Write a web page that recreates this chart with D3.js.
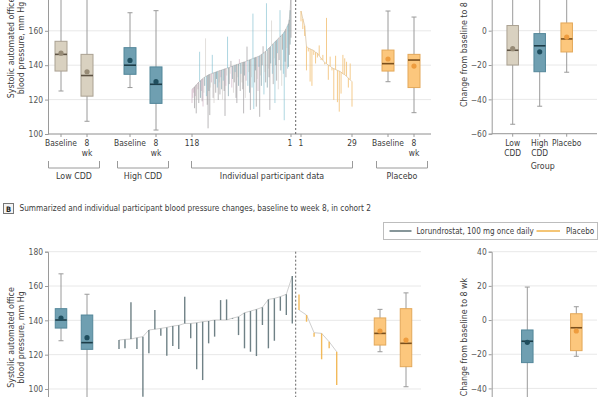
<!DOCTYPE html>
<html>
<head>
<meta charset="utf-8">
<script src="https://cdn.jsdelivr.net/npm/d3@7"></script>
<style>
  body { margin: 0; background: #fff; }
  svg { display: block; font-family: 'DejaVu Sans Condensed', 'DejaVu Sans', sans-serif; font-stretch: condensed; }
</style>
</head>
<body>
<svg id="chart" width="600" height="397"></svg>
<script>
// ---- cohort 1, individual participants (lorundrostat, sorted by baseline, 118 -> 1)
const lorBase1 = [
  126.0, 126.3, 126.9, 127.4, 127.9, 128.6, 129.0, 129.7, 130.1, 130.6,
  131.0, 131.4, 131.9, 132.3, 132.8, 133.0, 133.4, 133.6, 133.9, 134.3,
  134.5, 134.7, 134.9, 135.1, 135.3, 135.5, 135.6, 135.8, 136.0, 136.2,
  136.4, 136.5, 136.7, 136.9, 137.0, 137.2, 137.4, 137.5, 137.7, 137.9,
  138.0, 138.2, 138.4, 138.5, 138.7, 138.9, 139.1, 139.3, 139.5, 139.7,
  139.9, 140.0, 140.2, 140.4, 140.5, 140.7, 140.9, 141.1, 141.3, 141.5,
  141.6, 141.8, 141.9, 142.0, 142.3, 142.5, 142.7, 142.9, 143.1, 143.3,
  143.5, 143.7, 143.9, 144.1, 144.3, 144.5, 144.6, 144.8, 145.0, 145.2,
  145.5, 145.8, 146.2, 146.6, 146.9, 147.3, 147.7, 148.1, 148.5, 149.0,
  149.5, 150.0, 150.4, 150.9, 151.5, 152.0, 152.5, 153.0, 153.6, 154.0,
  154.5, 155.0, 155.5, 156.0, 156.5, 157.0, 157.5, 158.0, 158.5, 159.3,
  160.0, 161.0, 162.0, 163.0, 164.2, 166.5, 172.0, 182.0
];
const lorWk1 = [
  118, 121, 124, 115, 122, 112, 120, 126, 118, 147.8,
  121, 125, 119, 116, 124, 128, 155.6, 122, 117, 103.3,
  125, 111, 127, 130, 146, 121, 118, 129, 124, 132,
  127, 119.8, 130, 123, 133, 126, 120, 131, 125, 110.5,
  128, 134, 156.6, 122, 129, 135, 142.5, 127, 132, 124,
  130, 136, 121, 118, 133, 128, 143.5, 125, 135, 130,
  126, 112, 134, 121, 131, 150.8, 128, 136, 124, 114,
  133, 127, 170, 114.5, 130, 137, 115.9, 132, 125, 139,
  110, 134, 128, 140, 151, 123, 136, 130, 176, 127,
  138, 133, 114, 141, 166, 135, 129, 144, 118, 140,
  131, 147, 126, 143, 172, 137, 128, 149, 135, 108,
  142, 133, 150, 138, 139, 146, 152, 156
];
// dose arm of each participant (index into doseColors)
const lorDose1 = [
  0, 0, 0, 1, 0, 1, 2, 0, 1, 3,
  4, 0, 1, 0, 2, 4, 2, 3, 1, 1,
  4, 1, 2, 0, 3, 1, 2, 3, 1, 4,
  3, 1, 2, 1, 0, 4, 2, 3, 1, 1,
  0, 2, 3, 4, 1, 2, 1, 0, 4, 2,
  1, 3, 1, 1, 2, 4, 0, 1, 3, 2,
  1, 1, 4, 2, 0, 1, 3, 2, 4, 1,
  2, 3, 3, 3, 1, 4, 1, 2, 0, 3,
  1, 2, 4, 1, 1, 3, 2, 1, 3, 4,
  2, 1, 1, 4, 2, 3, 1, 2, 3, 4,
  1, 3, 2, 1, 3, 4, 2, 1, 3, 3,
  4, 1, 2, 3, 4, 1, 4, 1
];
// ---- cohort 1, placebo participants (1 -> 29)
const plaBase1 = [
  171.5, 167.0, 163.0, 151.0, 150.0, 149.5, 149.0, 148.5, 147.5, 147.0,
  145.5, 144.0, 143.0, 141.5, 140.9, 140.0, 139.5, 138.5, 138.0, 137.5,
  137.0, 136.6, 136.0, 135.0, 134.5, 133.5, 132.5, 131.5, 130.4
];
const plaWk1 = [
  165.5, 161, 157, 137, 148, 130.5, 128, 146, 141, 144.5,
  151.5, 143, 146, 140.5, 167.5, 131.5, 145, 137, 119.8, 145.5,
  118.5, 113, 123.5, 146, 144, 142, 127, 141, 115.9
];

// ---- cohort 2, individual participants (lorundrostat 30 -> 1, placebo 1 -> 6)
const lorBase2 = [
  128.5, 128.9, 129.1, 129.9, 130.5, 134.4, 134.8, 135.3, 135.9, 136.7,
  137.1, 138.2, 138.2, 138.6, 139.2, 139.6, 140.2, 140.2, 140.2, 141.3,
  142.1, 144.4, 145.4, 146.4, 147.6, 152.2, 152.8, 153.8, 155.2, 165.8
];
const lorWk2 = [
  123.3, 123.7, 150.5, 123.3, 95.5, 120.8, 146.0, 131.0, 119.4, 125.0,
  123.3, 153.8, 129.5, 111.5, 105.2, 126.6, 130.5, 151.8, 152.2, 140.9,
  131.4, 123.7, 121.7, 119.2, 137.3, 123.7, 128.1, 145.6, 143.1, 138.2
];
const plaBase2 = [146.0, 143.1, 132.8, 132.4, 127.5, 121.7];
const plaWk2 = [155.0, 139.2, 130.5, 117.3, 123.7, 102.3];

// ---- box summaries: [whisker low, Q1, median, Q3, whisker high, mean]
const boxes1 = [
  {key: 'lowBase', stats: [125, 136.6, 146.3, 153.9, 185, 147.0], grp: 'low'},
  {key: 'low8', stats: [107.4, 122, 134, 146.3, 185, 136.2], grp: 'low'},
  {key: 'highBase', stats: [127, 134.7, 140, 150.2, 170.5, 142.8], grp: 'high'},
  {key: 'high8', stats: [102.3, 117.8, 128.9, 139, 171.7, 130.4], grp: 'high'},
  {key: 'plaBase', stats: [130.4, 136.6, 140.9, 148.8, 171.5, 143.6], grp: 'pla'},
  {key: 'pla8', stats: [112.4, 127, 143, 146.3, 168, 139.5], grp: 'pla'}
];
const change1 = [
  {key: 'Low CDD', stats: [-54.5, -20, -11.4, 3, 25, -10.5], grp: 'low'},
  {key: 'High CDD', stats: [-44, -23.9, -8.8, -1.7, 25, -12.3], grp: 'high'},
  {key: 'Placebo', stats: [-24.2, -12.4, -4.8, 4.5, 22, -3.7], grp: 'pla'}
];
const boxes2 = [
  {key: 'lorBase', stats: [128.1, 135.5, 140.2, 146.8, 167.1, 141.3], grp: 'high'},
  {key: 'lor8', stats: [92, 123.1, 127, 143.1, 155.2, 129.9], grp: 'high'},
  {key: 'plaBase', stats: [121.7, 125.6, 132.4, 141.4, 146.4, 133.8], grp: 'pla'},
  {key: 'pla8', stats: [101.3, 113, 126.6, 146.8, 156, 128.5], grp: 'pla'}
];
const change2 = [
  {key: 'Lorundrostat', stats: [-48, -24.9, -12.4, -5.8, 19.3, -13.0], grp: 'high'},
  {key: 'Placebo', stats: [-21.2, -17.9, -4.5, 3.7, 7.8, -6.4], grp: 'pla'}
];

const bpTicks1 = [100, 120, 140, 160];
const bpTicks2 = [100, 120, 140, 160, 180];
const chTicks1 = [-60, -40, -20, 0];
const chTicks2 = [-40, -20, 0, 20, 40];
const legendItems = ['Lorundrostat, 100 mg once daily', 'Placebo'];
const titleB = 'Summarized and individual participant blood pressure changes, baseline to week 8, in cohort 2';

// colours
const boxCol = {
  low: {fill: '#d9d1c0', stroke: '#aaa192', med: '#5e5344', mean: '#978b76'},
  high: {fill: '#6f9fb1', stroke: '#53879a', med: '#1d3d48', mean: '#1f4e5e'},
  pla: {fill: '#fcc77d', stroke: '#e3a85a', med: '#7a4f1c', mean: '#ee9c3e'}
};
const doseColors = ['#c9a4b8', '#8b888a', '#cdc8c3', '#74b8cb', '#6a8f99'];
const plaLineCol = '#f2bf72';
const lorLineCol2 = '#5f7379';
const plaLineCol2 = '#f1b249';

const svg = d3.select('#chart');
const txt = '#3a3a3a', tickCol = '#555', axisCol = '#9a9a9a', gridCol = '#e8e8e8';
const fs = '8.4px';

function yAxis(g, y, ticks, x, x2) {
  g.selectAll('line.grid').data(ticks).enter().append('line')
    .attr('class', 'grid')
    .attr('x1', x).attr('x2', x2)
    .attr('y1', d => y(d)).attr('y2', d => y(d))
    .attr('stroke', gridCol);
  const ax = g.append('g').attr('transform', `translate(${x},0)`)
    .call(d3.axisLeft(y).tickValues(ticks).tickSize(3).tickPadding(2));
  ax.select('.domain').attr('stroke', axisCol);
  ax.selectAll('.tick line').attr('stroke', axisCol);
  ax.selectAll('.tick text').attr('fill', tickCol).style('font-size', fs)
    .style('font-family', "'DejaVu Sans Condensed', 'DejaVu Sans', sans-serif");
}

function rotLabel(g, lines, x, yc) {
  lines.forEach((t, i) => {
    g.append('text')
      .attr('transform', `translate(${x + i * 10},${yc}) rotate(-90)`)
      .attr('text-anchor', 'middle')
      .attr('fill', txt)
      .style('font-size', '8.8px')
      .text(t);
  });
}

function drawBox(g, cx, s, y, c, w) {
  const [lo, q1, med, q3, hi, mean] = s;
  g.append('line').attr('x1', cx).attr('x2', cx).attr('y1', y(lo)).attr('y2', y(hi))
    .attr('stroke', axisCol);
  [lo, hi].forEach(v => g.append('line')
    .attr('x1', cx - 2.5).attr('x2', cx + 2.5).attr('y1', y(v)).attr('y2', y(v))
    .attr('stroke', axisCol));
  g.append('rect')
    .attr('x', cx - w / 2).attr('y', y(q3))
    .attr('width', w).attr('height', y(q1) - y(q3))
    .attr('fill', c.fill).attr('stroke', c.stroke);
  g.append('line').attr('x1', cx - w / 2).attr('x2', cx + w / 2)
    .attr('y1', y(med)).attr('y2', y(med))
    .attr('stroke', c.med).attr('stroke-width', 1.6);
  g.append('circle').attr('cx', cx).attr('cy', y(mean)).attr('r', 2.6).attr('fill', c.mean);
}

function xLabel(g, lines, x, y0) {
  lines.forEach((t, i) => g.append('text')
    .attr('x', x).attr('y', y0 + i * 10)
    .attr('text-anchor', 'middle').attr('fill', txt)
    .style('font-size', fs).text(t));
}

function bracket(g, x0, x1, label) {
  g.append('path')
    .attr('d', `M${x0},161V168H${x1}V161`)
    .attr('fill', 'none').attr('stroke', axisCol);
  g.append('text').attr('x', (x0 + x1) / 2).attr('y', 179)
    .attr('text-anchor', 'middle').attr('fill', txt)
    .style('font-size', '8.8px').text(label);
}

function participants(g, xs, base, wk, col, ids, sw) {
  g.selectAll(null).data(base).enter().append('line')
    .attr('x1', (d, i) => xs(ids[i])).attr('x2', (d, i) => xs(ids[i]))
    .attr('y1', d => d).attr('y2', (d, i) => wk[i])
    .attr('stroke', (d, i) => col(i))
    .attr('stroke-width', sw).attr('stroke-opacity', 0.9);
}

function drawCohort1() {
  const y = d3.scaleLinear().domain([100, 200]).range([134, -38]);
  const g = svg.append('g');
  yAxis(g, y, bpTicks1, 48, 431);
  rotLabel(g, ['Systolic automated office', 'blood pressure, mm Hg'], 13.5, y(150));

  g.append('line').attr('x1', 48).attr('x2', 431).attr('y1', 134).attr('y2', 134).attr('stroke', axisCol);

  const bx = d3.scaleOrdinal().domain(boxes1.map(d => d.key)).range([61, 87, 130, 156, 388, 414]);
  boxes1.forEach(b => drawBox(g, bx(b.key), b.stats, y, boxCol[b.grp], 12));

  const xl = d3.scaleLinear().domain([118, 1]).range([192, 291]);
  const xp = d3.scaleLinear().domain([1, 29]).range([301, 352]);
  const lIds = lorBase1.map((d, i) => 118 - i);
  const pIds = plaBase1.map((d, i) => i + 1);

  // baseline curves
  const curve = d3.line().x(d => d[0]).y(d => y(d[1]));
  g.append('path').attr('d', curve(lorBase1.map((d, i) => [xl(lIds[i]), d])))
    .attr('fill', 'none').attr('stroke', '#c4c4c4').attr('stroke-width', 0.8);
  g.append('path').attr('d', curve(plaBase1.map((d, i) => [xp(pIds[i]), d])))
    .attr('fill', 'none').attr('stroke', '#d9c7a8').attr('stroke-width', 0.8);

  participants(g, xl, lorBase1.map(y), lorWk1.map(y), i => doseColors[lorDose1[i]], lIds, 0.65);
  participants(g, xp, plaBase1.map(y), plaWk1.map(y), () => plaLineCol, pIds, 0.9);

  g.append('line').attr('x1', 295.7).attr('x2', 295.7).attr('y1', 0).attr('y2', 134)
    .attr('stroke', '#666').attr('stroke-dasharray', '2,2');

  // x ticks
  const tickXs = [61, 87, 130, 156, xl(118), xl(1), xp(1), xp(29), 388, 414];
  g.selectAll('line.xt').data(tickXs).enter().append('line')
    .attr('x1', d => d).attr('x2', d => d).attr('y1', 134).attr('y2', 137).attr('stroke', axisCol);

  xLabel(g, ['Baseline'], 61, 146);
  xLabel(g, ['8', 'wk'], 87, 146);
  xLabel(g, ['Baseline'], 130, 146);
  xLabel(g, ['8', 'wk'], 156, 146);
  xLabel(g, ['118'], xl(118), 146);
  xLabel(g, ['1'], xl(1) - 1, 146);
  xLabel(g, ['1'], xp(1), 146);
  xLabel(g, ['29'], xp(29), 146);
  xLabel(g, ['Baseline'], 388, 146);
  xLabel(g, ['8', 'wk'], 414, 146);

  bracket(g, 48.5, 99.5, 'Low CDD');
  bracket(g, 117.5, 168.5, 'High CDD');
  bracket(g, 191.5, 352.5, 'Individual participant data');
  bracket(g, 376.5, 427.5, 'Placebo');

  // change panel
  const yc = d3.scaleLinear().domain([-60, 40]).range([133.7, -38]);
  const gc = svg.append('g');
  yAxis(gc, yc, chTicks1, 491.7, 597);
  gc.append('line').attr('x1', 491.7).attr('x2', 597).attr('y1', 133.7).attr('y2', 133.7).attr('stroke', axisCol);
  rotLabel(gc, ['Change from baseline to 8 wk'], 466.5, yc(-10));
  const cx = d3.scalePoint().domain(change1.map(d => d.key)).range([512.7, 566.7]);
  change1.forEach(b => {
    drawBox(gc, cx(b.key), b.stats, yc, boxCol[b.grp], 11.5);
    gc.append('line').attr('x1', cx(b.key)).attr('x2', cx(b.key)).attr('y1', 133.7).attr('y2', 136.7).attr('stroke', axisCol);
  });
  xLabel(gc, ['Low', 'CDD'], cx('Low CDD'), 146);
  xLabel(gc, ['High', 'CDD'], cx('High CDD'), 146);
  xLabel(gc, ['Placebo'], cx('Placebo'), 146);
  gc.append('text').attr('x', 542.7).attr('y', 169).attr('text-anchor', 'middle')
    .attr('fill', txt).style('font-size', '8.8px').text('Group');
}

function drawCohort2() {
  const g = svg.append('g');
  // panel title
  g.append('rect').attr('x', 3.5).attr('y', 203.5).attr('width', 10).attr('height', 10)
    .attr('fill', '#f4f4f4').attr('stroke', '#777');
  g.append('text').attr('x', 8.5).attr('y', 211.6).attr('text-anchor', 'middle')
    .attr('fill', '#222').style('font-size', '7.5px').style('font-weight', 'bold').text('B');
  g.append('text').attr('x', 19.5).attr('y', 211.3).attr('fill', txt)
    .style('font-size', '8.2px').text(titleB);

  // legend
  const lg = g.append('g');
  lg.append('rect').attr('x', 383.5).attr('y', 222.5).attr('width', 214).attr('height', 17)
    .attr('fill', '#fff').attr('stroke', '#bdbdbd');
  const lx = [[389.5, 411.5, 416.5], [536.5, 560, 566]];
  const lc = [lorLineCol2, plaLineCol2];
  legendItems.forEach((t, i) => {
    lg.append('line').attr('x1', lx[i][0]).attr('x2', lx[i][1]).attr('y1', 231).attr('y2', 231)
      .attr('stroke', lc[i]).attr('stroke-width', 1.5);
    lg.append('text').attr('x', lx[i][2]).attr('y', 234).attr('fill', txt)
      .style('font-size', '8px').text(t);
  });

  const y = d3.scaleLinear().domain([80, 180]).range([423.3, 251.7]);
  yAxis(g, y, bpTicks2, 48, 421);
  rotLabel(g, ['Systolic automated office', 'blood pressure, mm Hg'], 13.5, y(130));

  const bx = d3.scaleOrdinal().domain(boxes2.map(d => d.key)).range([61, 87, 380, 406]);
  boxes2.forEach(b => drawBox(g, bx(b.key), b.stats, y, boxCol[b.grp], 11.5));

  const xl = d3.scaleLinear().domain([30, 1]).range([119, 292.3]);
  const xp = d3.scaleLinear().domain([1, 6]).range([299, 336.7]);
  const lIds = lorBase2.map((d, i) => 30 - i);
  const pIds = plaBase2.map((d, i) => i + 1);

  const curve = d3.line().x(d => d[0]).y(d => y(d[1]));
  g.append('path').attr('d', curve(lorBase2.map((d, i) => [xl(lIds[i]), d])))
    .attr('fill', 'none').attr('stroke', '#cfcfcf').attr('stroke-width', 1);
  g.append('path').attr('d', curve(plaBase2.map((d, i) => [xp(pIds[i]), d])))
    .attr('fill', 'none').attr('stroke', '#cfcfcf').attr('stroke-width', 1);

  participants(g, xl, lorBase2.map(y), lorWk2.map(y), () => lorLineCol2, lIds, 1.4);
  participants(g, xp, plaBase2.map(y), plaWk2.map(y), () => plaLineCol2, pIds, 1.4);

  g.append('line').attr('x1', 295.7).attr('x2', 295.7).attr('y1', 251.7).attr('y2', 423)
    .attr('stroke', '#666').attr('stroke-dasharray', '2,2');

  const yc = d3.scaleLinear().domain([-60, 40]).range([422.6, 251.7]);
  const gc = svg.append('g');
  yAxis(gc, yc, chTicks2, 491.7, 597);
  rotLabel(gc, ['Change from baseline to 8 wk'], 466.5, yc(-10));
  const cx = d3.scalePoint().domain(change2.map(d => d.key)).range([527.3, 576.3]);
  change2.forEach(b => drawBox(gc, cx(b.key), b.stats, yc, boxCol[b.grp], 11.5));
}

drawCohort1();
drawCohort2();
</script>
</body>
</html>
